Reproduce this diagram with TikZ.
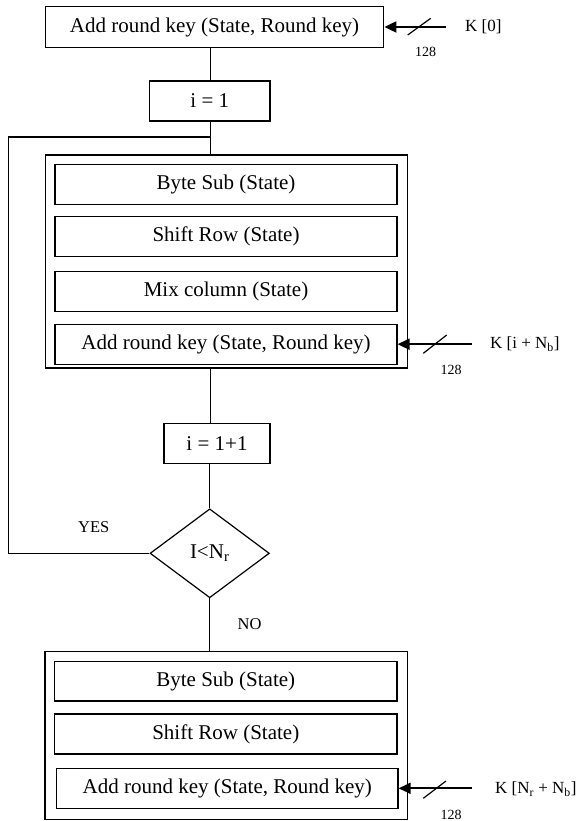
\documentclass[tikz,border=0pt]{standalone}
\usepackage{fontspec}
\setmainfont{Liberation Serif}
\usetikzlibrary{arrows.meta,shapes.geometric}
\begin{document}
\begin{tikzpicture}[x=1pt,y=-1pt,
  box/.style={draw,line width=1.2pt,rectangle,inner sep=0pt,minimum height=40pt,font=\fontsize{21}{25}\selectfont},
  frame/.style={draw,line width=1.2pt,rectangle,inner sep=0pt},
  flow/.style={line width=1.2pt},
  keyarrow/.style={line width=2pt,-{Triangle[length=12pt,width=11pt]}},
  slash/.style={line width=1.2pt},
  keylabel/.style={anchor=west,inner sep=0pt,font=\fontsize{17}{20}\selectfont},
  bits/.style={inner sep=0pt,font=\fontsize{14}{16}\selectfont},
  tag/.style={inner sep=0pt,font=\fontsize{16.5}{19}\selectfont}]
\useasboundingbox (0,0) rectangle (576,821);

% top part
\node[box,minimum width=338.6pt,minimum height=40.6pt] (top) at (214.5,27) {Add round key (State, Round key)};
\node[box,minimum width=120.5pt] (i1) at (209.75,101) {i = 1};

% round frame
\node[frame,minimum width=362.5pt,minimum height=213pt] (outer1) at (226.5,261.5) {};
\node[box,minimum width=342pt] (bs1) at (226,184.2) {Byte Sub (State)};
\node[box,minimum width=342pt] (sr1) at (226,236.8) {Shift Row (State)};
\node[box,minimum width=342pt] (mc1) at (226,291.3) {Mix column (State)};
\node[box,minimum width=342pt] (ar1) at (226,344.2) {Add round key (State, Round key)};

\node[box,minimum width=106pt] (i2) at (217,443.3) {i = 1+1};
\node[draw,line width=1.2pt,diamond,inner sep=0pt,minimum width=119.3pt,minimum height=89pt,font=\fontsize{21}{25}\selectfont] (dec) at (209.7,553.3) {I<N\textsubscript{r}};

% final round frame
\node[frame,minimum width=362.7pt,minimum height=167.6pt] (outer2) at (226.4,735.5) {};
\node[box,minimum width=342.5pt,minimum height=39.3pt] (bs2) at (225.8,681.3) {Byte Sub (State)};
\node[box,minimum width=342.5pt] (sr2) at (225.8,734) {Shift Row (State)};
\node[box,minimum width=341.5pt] (ar2) at (227.3,788.3) {Add round key (State, Round key)};

% spine connectors
\coordinate (sp) at (210.5,0);
\coordinate (j) at (210.5,137);
\coordinate (lx) at (8.3,137);
\draw[flow] (top.south -| sp) -- (i1.north -| sp);
\draw[flow] (i1.south -| sp) -- (outer1.north -| sp);
\draw[flow] (dec.west) -- (dec.west -| lx) -- (lx) -- (j);
\draw[flow] (outer1.south -| sp) -- (i2.north -| sp);
\draw[flow] (i2.south -| dec.north) -- (dec.north);
\draw[flow] (dec.south) -- (outer2.north -| dec.south);

\node[tag] (yes) at (93.8,526.7) {YES};
\node[tag] (no) at (249.5,624) {NO};

% key inputs
\coordinate (k0) at (445.7,27);
\draw[keyarrow] (top.east -| k0) -- (top.east);
\draw[slash] (407.7,35) -- (430.7,18.3);
\node[keylabel] (lk0) at (465,26.7) {K [0]};
\node[bits] (b0) at (425.5,51.7) {128};

\coordinate (k1) at (471.7,344);
\draw[keyarrow] (ar1.east -| k1) -- (ar1.east);
\draw[slash] (423.3,353.3) -- (446.7,335);
\node[keylabel] (lk1) at (490,344) {K [i + N\textsubscript{b}]};
\node[bits] (b1) at (451,369.5) {128};

\coordinate (k2) at (471.7,789.3);
\draw[keyarrow] (ar2.east -| k2) -- (ar2.east);
\draw[slash] (423.3,798.3) -- (446,781);
\node[keylabel] (lk2) at (495,789) {K [N\textsubscript{r} + N\textsubscript{b}]};
\node[bits] (b2) at (451,814.5) {128};
\end{tikzpicture}
\end{document}
